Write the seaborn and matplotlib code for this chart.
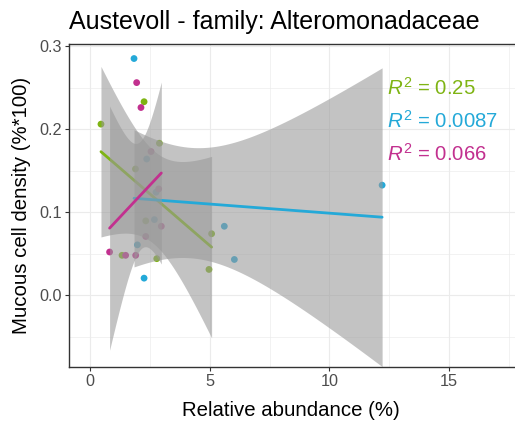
import numpy as np
import pandas as pd
import matplotlib.pyplot as plt
import seaborn as sns

# values (x = relative abundance %, y = mucous cell density)
green_x = [0.46, 2.26, 2.90, 1.90, 2.33, 1.34, 2.79, 5.08, 4.97]
green_y = [0.206, 0.233, 0.183, 0.152, 0.0895, 0.048, 0.044, 0.074, 0.031]
blue_x = [1.84, 2.37, 2.76, 2.69, 1.98, 2.26, 5.61, 6.03, 12.2]
blue_y = [0.285, 0.164, 0.124, 0.091, 0.0606, 0.0205, 0.083, 0.043, 0.1325]
pink_x = [1.95, 2.13, 2.55, 2.87, 2.98, 2.33, 0.82, 1.49, 1.91]
pink_y = [0.256, 0.226, 0.173, 0.128, 0.083, 0.0707, 0.052, 0.048, 0.048]

groups = ["g1", "g2", "g3"]
colors = ["#7fb414", "#24a9d8", "#c2308f"]
r2_labels = ["0.25", "0.0087", "0.066"]

df = pd.concat([
    pd.DataFrame({"abund": green_x, "mucous": green_y, "group": groups[0]}),
    pd.DataFrame({"abund": blue_x, "mucous": blue_y, "group": groups[1]}),
    pd.DataFrame({"abund": pink_x, "mucous": pink_y, "group": groups[2]}),
], ignore_index=True)

sns.set_theme(style="white")
plt.rcParams["font.family"] = ["Liberation Sans", "DejaVu Sans"]
plt.rcParams["mathtext.fontset"] = "custom"
plt.rcParams["mathtext.rm"] = "Liberation Sans"
plt.rcParams["mathtext.it"] = "Liberation Sans:italic"

fig = plt.figure(figsize=(5.15, 4.28), dpi=100)
# panel runs past the right edge, as in the cropped original
ax = fig.add_axes([69 / 515, 61 / 428, 461 / 515, 323 / 428])

# points first so the grey bands sit on top of them
sns.scatterplot(data=df, x="abund", y="mucous", hue="group", palette=colors,
                s=24, edgecolor="none", legend=False, zorder=1, ax=ax)

# linear fit with 95% band (t quantile, df = n - 2 = 7), like geom_smooth(method="lm")
t975 = 2.3646
for i, g in enumerate(groups):
    sub = df[df["group"] == g]
    x = sub["abund"].to_numpy()
    y = sub["mucous"].to_numpy()
    b, a = np.polyfit(x, y, 1)
    xs = np.linspace(x.min(), x.max(), 80)
    fit = a + b * xs
    resid = y - (a + b * x)
    s2 = (resid ** 2).sum() / (len(x) - 2)
    se = np.sqrt(s2 * (1 / len(x) + (xs - x.mean()) ** 2 / ((x - x.mean()) ** 2).sum()))
    ax.fill_between(xs, fit - t975 * se, fit + t975 * se, color="#999999",
                    alpha=0.58, lw=0, zorder=2 + i * 0.1)
    sns.lineplot(x=xs, y=fit, color=colors[i], lw=2.0, zorder=2.05 + i * 0.1, ax=ax)

# R^2 labels
for i, lab in enumerate(r2_labels):
    ax.text(12.4, 0.2412 - i * 0.0398, r"$R^2$ = " + lab, color=colors[i],
            fontsize=14.7, ha="left", va="baseline", zorder=5)

ax.set_xlim(-0.875, 18.375)
ax.set_ylim(-0.0865, 0.3025)
ax.set_xticks([0, 5, 10, 15])
ax.set_xticks([2.5, 7.5, 12.5, 17.5], minor=True)
ax.set_yticks([0.0, 0.1, 0.2, 0.3])
ax.set_yticks([-0.05, 0.05, 0.15, 0.25], minor=True)
ax.set_yticklabels(["0.0", "0.1", "0.2", "0.3"])
ax.grid(which="major", color="#ebebeb", lw=0.8)
ax.grid(which="minor", color="#ebebeb", lw=0.45)
ax.set_axisbelow(True)

ax.tick_params(which="major", length=3, width=0.8, color="#333333", pad=2,
               labelsize=11.7, labelcolor="#4d4d4d", bottom=True, left=True)
ax.tick_params(which="minor", length=0)
for side in ["left", "bottom", "top", "right"]:
    ax.spines[side].set_color("#333333")
    ax.spines[side].set_linewidth(1.0)

ax.set_title("Austevoll - family: Alteromonadaceae", loc="left", fontsize=18,
             color="black", pad=10.8)
ax.set_xlabel("Relative abundance (%)", fontsize=14.7, color="black")
ax.set_ylabel("Mucous cell density (%*100)", fontsize=14.7, color="black")
ax.xaxis.set_label_coords((291 - 69) / 461, (367 - 415.7) / 323)
ax.xaxis.label.set_va("baseline")
ax.yaxis.set_label_coords((22 - 69) / 461, (367 - 205) / 323)
ax.yaxis.label.set_va("center")

plt.savefig("out.png", dpi=100)
